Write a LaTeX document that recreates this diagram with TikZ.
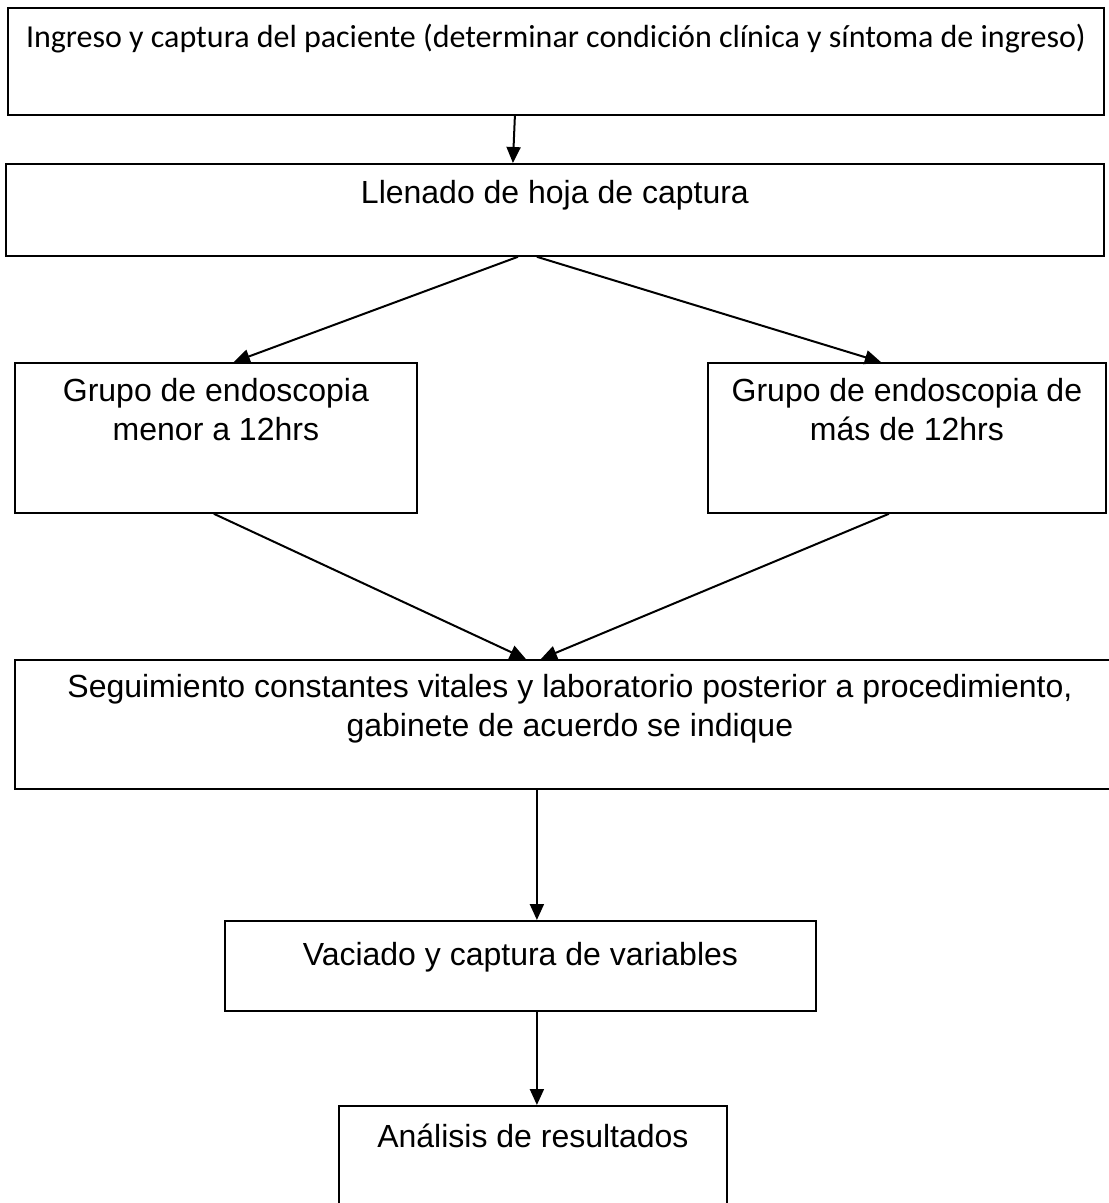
\documentclass[tikz,border=0pt]{standalone}
\usepackage{fontspec}
\setmainfont{Liberation Sans}
\newfontfamily\calibrifont{Carlito}
\usepackage{tikz}
\usetikzlibrary{arrows.meta,positioning}

\begin{document}
\begin{tikzpicture}[
  x=1pt, y=-1pt,
  font=\fontsize{32}{39}\selectfont,
  flowbox/.style={draw, line width=1.8pt, anchor=north west, align=center,
               inner sep=0pt},
  arr/.style={-{Triangle[length=16pt, width=14pt]}, line width=2pt}
]
\useasboundingbox (0,0) rectangle (1109,1203);
\clip (0,0) rectangle (1109,1203);
\node[flowbox, minimum width=1096pt, minimum height=107pt, text height=40pt, text depth=67pt,
      font=\calibrifont\fontsize{32}{39}\selectfont] (ingreso) at (7,7)
  {Ingreso y captura del paciente (determinar condición clínica y síntoma de ingreso)};
\node[flowbox, minimum width=1098pt, minimum height=92pt, text height=40pt, text depth=52pt] (llenado) at (5,163)
  {Llenado de hoja de captura};
\node[flowbox, minimum width=402pt, minimum height=150pt, text height=78pt, text depth=72pt] (menor) at (14,362)
  {Grupo de endoscopia\\ menor a 12hrs};
\node[flowbox, minimum width=398pt, minimum height=150pt, text height=78pt, text depth=72pt] (mayor) at (707,362)
  {Grupo de endoscopia de\\ más de 12hrs};
\node[flowbox, minimum width=1110pt, minimum height=129pt, text height=77pt, text depth=52pt] (seguim) at (14,659)
  {Seguimiento constantes vitales y laboratorio posterior a procedimiento,\\ gabinete de acuerdo se indique};
\node[flowbox, minimum width=591pt, minimum height=90pt, text height=45pt, text depth=45pt] (vaciado) at (224,920)
  {Vaciado y captura de variables};
\node[flowbox, minimum width=388pt, minimum height=120pt, text height=42pt, text depth=78pt] (analisis) at (338,1105)
  {Análisis de resultados};
\draw[arr] ([xshift=-41pt]ingreso.south) -- ([xshift=-42pt]llenado.north);
\draw[arr] ([xshift=-37pt]llenado.south) -- ([xshift=18pt]menor.north);
\draw[arr] ([xshift=-18pt]llenado.south) -- ([xshift=-26pt]mayor.north);
\draw[arr] ([xshift=-2pt]menor.south) -- ([xshift=-44pt]seguim.north);
\draw[arr] ([xshift=-18pt]mayor.south) -- ([xshift=-29pt]seguim.north);
\draw[arr] ([xshift=-33pt]seguim.south) -- ([xshift=16.5pt]vaciado.north);
\draw[arr] ([xshift=16.5pt]vaciado.south) -- ([xshift=4pt]analisis.north);
\end{tikzpicture}
\end{document}
